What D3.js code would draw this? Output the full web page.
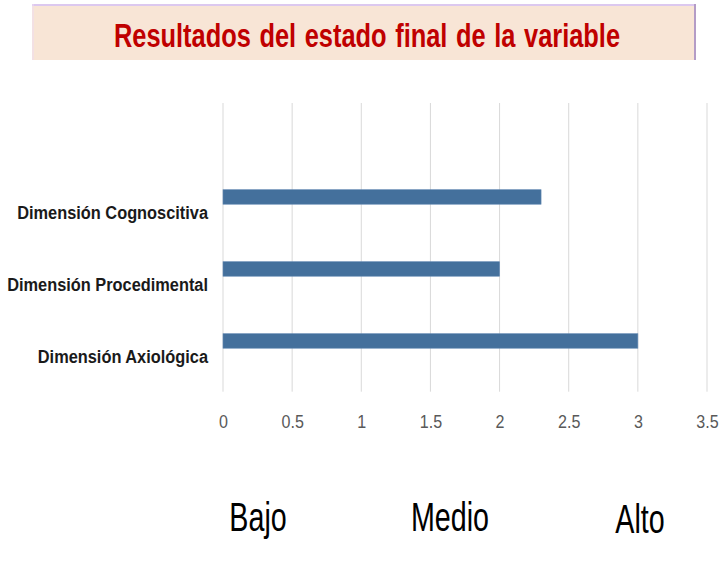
<!DOCTYPE html>
<html>
<head>
<meta charset="utf-8">
<script src="https://cdn.jsdelivr.net/npm/d3@7/dist/d3.min.js"></script>
<style>
  body { margin: 0; background: #ffffff; }
  svg { display: block; }
  text { font-family: "Liberation Sans", Arial, sans-serif; }
</style>
</head>
<body>
<div id="chart"></div>
<script>
// Data
var categories = ["Dimensión Cognoscitiva", "Dimensión Procedimental", "Dimensión Axiológica"];
var values = [2.3, 2.0, 3.0];
var xTicks = [0, 0.5, 1, 1.5, 2, 2.5, 3, 3.5];
var levels = ["Bajo", "Medio", "Alto"];
var titleText = "Resultados del estado final de la variable";

// Layout
var W = 728, H = 565;
var plotTop = 103, plotLeft = 223, plotRight = 707;
var levelPos = [{x: 258, y: 531}, {x: 450, y: 531}, {x: 640, y: 533}];

var svg = d3.select("#chart").append("svg")
	.attr("width", W)
	.attr("height", H);

// helper: text squeezed horizontally like the condensed slide fonts
function squeezed(parent, x, y, sx, str) {
	return parent.append("g")
		.attr("transform", "translate(" + x + "," + y + ") scale(" + sx + ",1)")
		.append("text")
		.text(str);
}

// Title banner
svg.append("rect")
	.attr("x", 32).attr("y", 4)
	.attr("width", 663).attr("height", 56)
	.attr("fill", "#f8e5d6");
svg.append("line")
	.attr("x1", 32).attr("x2", 695).attr("y1", 5).attr("y2", 5)
	.attr("stroke", "#dcc8ef").attr("stroke-width", 2);
svg.append("line")
	.attr("x1", 33).attr("x2", 33).attr("y1", 4).attr("y2", 60)
	.attr("stroke", "#eedcf2").attr("stroke-width", 1);
svg.append("line")
	.attr("x1", 695).attr("x2", 695).attr("y1", 4).attr("y2", 60)
	.attr("stroke", "#b49cc6").attr("stroke-width", 2);

squeezed(svg, 367, 46.5, 0.77, titleText)
	.attr("text-anchor", "middle")
	.attr("font-size", "33px")
	.attr("font-weight", "bold")
	.attr("word-spacing", "2px")
	.attr("fill", "#c00000");

// Scales
var x = d3.scaleLinear()
	.domain([0, 3.5])
	.range([plotLeft, plotRight]);

var y = d3.scaleBand()
	.domain(categories)
	.range([175.7, 391.7]);

var inner = d3.scaleBand()
	.domain(["serie", "vacía"])
	.range([0, y.bandwidth()])
	.paddingInner(0.508)
	.paddingOuter(0.475);

// Gridlines
svg.append("g")
	.selectAll("line")
	.data(xTicks)
	.enter().append("line")
	.attr("x1", function(d) { return x(d); })
	.attr("x2", function(d) { return x(d); })
	.attr("y1", plotTop)
	.attr("y2", y.range()[1])
	.attr("stroke", "#d9d9d9")
	.attr("stroke-width", 1);

// Bars
svg.append("g")
	.selectAll("rect")
	.data(values)
	.enter().append("rect")
	.attr("x", x(0))
	.attr("y", function(d, i) { return y(categories[i]) + inner("serie"); })
	.attr("width", function(d) { return x(d) - x(0); })
	.attr("height", inner.bandwidth())
	.attr("fill", "#44709c")
	.attr("stroke", "#6187b2")
	.attr("stroke-width", 0.6);

// Category labels
categories.forEach(function(c) {
	squeezed(svg, 208, y(c) + y.bandwidth() / 2 + 7.3, 0.88, c)
		.attr("text-anchor", "end")
		.attr("font-size", "18.6px")
		.attr("font-weight", "bold")
		.attr("fill", "#1a1a1a");
});

// X axis (labels only)
var xAxis = d3.axisBottom(x)
	.tickValues(xTicks)
	.tickSize(0)
	.tickPadding(24)
	.tickFormat(function(d) { return String(d); });

var gx = svg.append("g")
	.attr("transform", "translate(0," + y.range()[1] + ")")
	.call(xAxis);
gx.select(".domain").remove();
gx.selectAll("text")
	.attr("font-family", "'Liberation Sans', Arial, sans-serif")
	.attr("font-size", "17.5px")
	.attr("transform", "scale(0.92,1)")
	.attr("fill", "#595959");

// Level labels
levels.forEach(function(l, i) {
	squeezed(svg, levelPos[i].x, levelPos[i].y, 0.70, l)
		.attr("text-anchor", "middle")
		.attr("font-size", "41px")
		.attr("fill", "#000000");
});
</script>
</body>
</html>
